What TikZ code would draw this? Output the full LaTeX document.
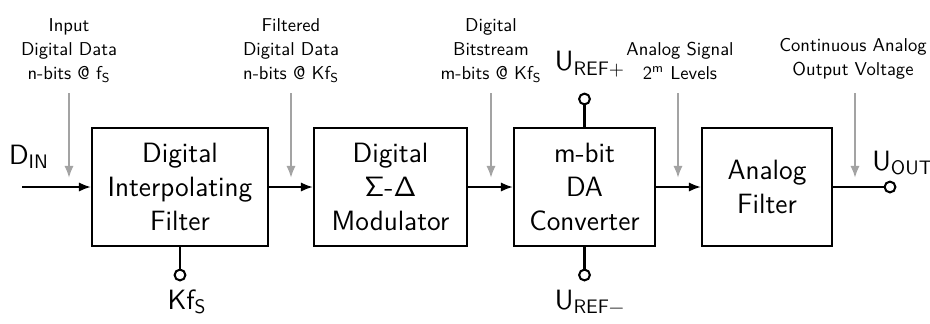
\documentclass[tikz,border=0pt]{standalone}
\usepackage{fontspec}
\usetikzlibrary{arrows.meta}
\tikzset{
  blk/.style={draw, line width=1.1pt, align=center, inner sep=0pt, font=\sffamily\fontsize{15}{18.3}\selectfont},
  lbl/.style={align=center, inner sep=0pt, font=\sffamily\fontsize{10}{12.9}\selectfont},
  big/.style={inner sep=0pt, font=\sffamily\fontsize{15}{18}\selectfont},
  sig/.style={line width=1.1pt, -{Latex[length=6.5pt,width=5pt]}},
  wire/.style={line width=1.1pt},
  hint/.style={line width=1.2pt, draw=black!36, -{Latex[length=6.5pt,width=5pt]}},
  term/.style={circle, draw, line width=1.1pt, fill=white, inner sep=0pt, minimum size=5.8pt},
}
\begin{document}
\begin{tikzpicture}[x=0.5376pt,y=-0.5376pt]
\useasboundingbox (0,0) rectangle (930,323);
% blocks
\node[blk, minimum width=176*0.5376pt, minimum height=118*0.5376pt] (b1) at (180,187) {Digital\\Interpolating\\Filter};
\node[blk, minimum width=153*0.5376pt, minimum height=118*0.5376pt] (b2) at (390.5,187) {Digital\\Σ-Δ\\Modulator};
\node[blk, minimum width=141*0.5376pt, minimum height=118*0.5376pt] (b3) at (584.5,187) {m-bit\\DA\\Converter};
\node[blk, minimum width=130*0.5376pt, minimum height=118*0.5376pt] (b4) at (767,187) {Analog\\Filter};
% input
\coordinate (in) at (22,187);
\node[big] (din) at (29,157) {D\textsubscript{IN}};
\draw[sig] (in) -- (b1);
\draw[sig] (b1) -- (b2);
\draw[sig] (b2) -- (b3);
\draw[sig] (b3) -- (b4);
% output
\node[term] (tout) at (890,187) {};
\draw[wire] (b4) -- (tout);
\node[big, anchor=west] (uout) at (872,163) {U\textsubscript{OUT}};
% Kfs
\node[term] (tk) at (180,275) {};
\draw[wire] (b1.south) -- (tk);
\node[big] (kfs) at (187,302) {Kf\textsubscript{S}};
% Uref
\node[term] (tp) at (584.5,99) {};
\draw[wire] (b3.north) -- (tp);
\node[big] (urp) at (590,64) {U\textsubscript{REF+}};
\node[term] (tm) at (584.5,275) {};
\draw[wire] (b3.south) -- (tm);
\node[big] (urm) at (590,302) {U\textsubscript{REF−}};
% gray hint arrows
\foreach \n/\x in {1/69,2/291,3/491,4/678,5/855}{
  \coordinate (h\n a) at (\x,93);
  \coordinate (h\n b) at (\x,178);
  \draw[hint] (h\n a) -- (h\n b);
}
% labels
\node[lbl, anchor=south] (l1) at (69,83) {Input\\Digital Data\\n-bits @ f\textsubscript{S}};
\node[lbl, anchor=south] (l2) at (291,83) {Filtered\\Digital Data\\n-bits @ Kf\textsubscript{S}};
\node[lbl, anchor=south] (l3) at (491,83) {Digital\\Bitstream\\m-bits @ Kf\textsubscript{S}};
\node[lbl, anchor=south] (l4) at (680,80) {Analog Signal\\2\textsuperscript{m} Levels};
\node[lbl, anchor=south] (l5) at (853,80) {Continuous Analog\\Output Voltage};
\end{tikzpicture}
\end{document}
